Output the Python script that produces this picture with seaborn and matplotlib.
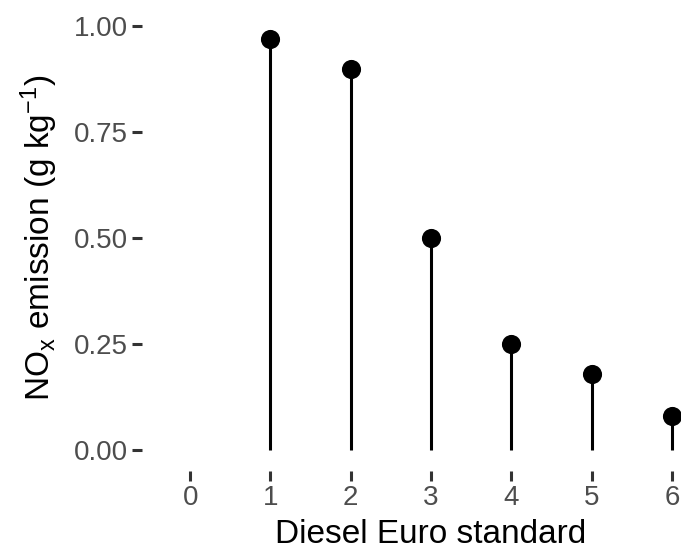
import numpy as np
import pandas as pd
import matplotlib
matplotlib.use("Agg")
import matplotlib.pyplot as plt
import seaborn as sns

# Diesel Euro standards and NOx emission factors (g/kg)
standards = [0, 1, 2, 3, 4, 5, 6]
nox = [np.nan, 0.97, 0.90, 0.50, 0.25, 0.18, 0.08]
y_ticks = [0.00, 0.25, 0.50, 0.75, 1.00]
y_tick_labels = ["0.00", "0.25", "0.50", "0.75", "1.00"]

df = pd.DataFrame({"standard": standards, "nox": nox})

sns.set_style("white")
plt.rcParams["font.family"] = ["Liberation Sans", "DejaVu Sans"]
plt.rcParams["mathtext.fontset"] = "custom"
plt.rcParams["mathtext.rm"] = "Liberation Sans"
plt.rcParams["mathtext.it"] = "Liberation Sans:italic"
plt.rcParams["mathtext.bf"] = "Liberation Sans:bold"

W, H = 681, 551
fig = plt.figure(figsize=(W / 100, H / 100), dpi=100)
ax = fig.add_axes([142 / W, 80 / H, 578 / W, 466 / H])

valid = df.dropna()
ax.vlines(valid["standard"], 0, valid["nox"], color="black", linewidth=2.2, zorder=2)
sns.scatterplot(data=valid, x="standard", y="nox", ax=ax, color="black",
                s=190, edgecolor="black", linewidth=0, zorder=3, legend=False)

ax.set_xlim(-0.6, 6.6)
ax.set_ylim(-0.05, 1.05)
ax.set_xticks(standards)
ax.set_xticklabels([str(s) for s in standards])
ax.set_yticks(y_ticks)
ax.set_yticklabels(y_tick_labels)

for side in ["top", "right", "bottom", "left"]:
    ax.spines[side].set_visible(False)

ax.tick_params(axis="both", which="major", direction="out", length=7, width=2.2,
               color="#333333", labelcolor="#4D4D4D", labelsize=20, pad=3,
               bottom=True, left=True)

ax.set_xlabel("Diesel Euro standard", fontsize=24, color="black", labelpad=6)
ax.set_ylabel(r"NO$_\mathrm{x}$ emission (g kg$^{-1}$)", fontsize=24,
              color="black", labelpad=10)

fig.savefig("out.png", dpi=100)
